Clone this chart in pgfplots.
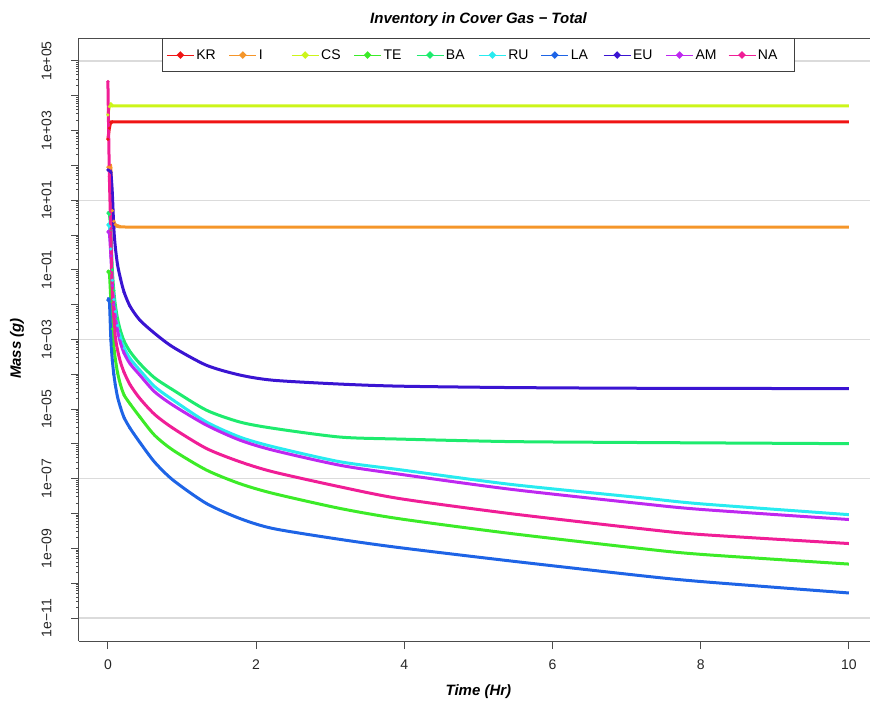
\documentclass[border=0pt]{standalone}
\usepackage{fontspec}
\setmainfont{Liberation Sans}
\usepackage{pgfplots}
\pgfplotsset{compat=1.18}

\definecolor{cKR}{HTML}{F01414}
\definecolor{cI}{HTML}{F5962A}
\definecolor{cCS}{HTML}{CCF51A}
\definecolor{cTE}{HTML}{3CEB28}
\definecolor{cBA}{HTML}{1EEB6E}
\definecolor{cRU}{HTML}{28EBF0}
\definecolor{cLA}{HTML}{1E64E6}
\definecolor{cEU}{HTML}{3A14D2}
\definecolor{cAM}{HTML}{BE28F0}
\definecolor{cNA}{HTML}{F01E96}

\newcommand{\lbl}[1]{\makebox[30.5pt][l]{#1}}

\begin{document}
\begin{tikzpicture}
\begin{axis}[
  scale only axis, width=791pt, height=603pt,
  xmin=-0.39, xmax=10.285,
  ymode=log, ymin=2.19e-12, ymax=4.57e5,
  axis x line*=box, axis y line*=left,
  xtick={0,2,4,6,8,10}, xtick pos=bottom,
  ytick={1e-11,1e-10,1e-9,1e-8,1e-7,1e-6,1e-5,1e-4,1e-3,1e-2,1e-1,1,1e1,1e2,1e3,1e4,1e5},
  yticklabels={1e−11,,1e−09,,1e−07,,1e−05,,1e−03,,1e−01,,1e+01,,1e+03,,1e+05},
  ytick pos=left, minor y tick num=0,
  extra y ticks={1e-11,1e-7,1e-3,1e1,1e5},
  extra y tick labels={},
  extra y tick style={grid=major, major tick length=0pt},
  major grid style={line width=1.2pt, color=black!14},
  tick align=outside, major tick length=8pt,
  tick style={line width=1pt, color=black!70},
  axis line style={line width=1pt, color=black!70},
  /pgf/number format/assume math mode=true,
  yticklabel shift=16pt, xticklabel shift=7pt,
  yticklabel style={rotate=90, anchor=south, font=\fontsize{14}{14}\selectfont, text=black!85},
  xticklabel style={anchor=north, font=\fontsize{14}{14}\selectfont, text=black!85},
  title={Inventory in Cover Gas − Total},
  title style={at={(axis description cs:0.505,1)}, yshift=12pt, anchor=center, font=\fontsize{15}{15}\selectfont\bfseries\itshape},
  xlabel={Time (Hr)},
  every axis x label/.style={at={(axis description cs:0.505,0)}, yshift=-51pt, anchor=center, font=\fontsize{15}{15}\selectfont\bfseries\itshape},
  ylabel={Mass (g)},
  every axis y label/.style={at={(axis description cs:0,0.485)}, xshift=-62pt, rotate=90, anchor=center, font=\fontsize{15}{15}\selectfont\bfseries\itshape},
  legend columns=10,
  legend style={at={(axis description cs:0.505,1)}, anchor=north, draw=black!75, line width=0.8pt,
    font=\fontsize{14}{14}\selectfont, inner xsep=4pt, inner ysep=9pt,
    /tikz/every even column/.append style={column sep=0pt}},
  legend image code/.code={\draw[#1, line width=0.9pt, mark=none] (0pt,0pt) -- (27pt,0pt);
    \fill[#1] (13.5pt,0pt) circle (1.7pt);},
  every axis plot/.append style={line width=3pt, mark=*, mark size=1.5pt,
    mark options={line width=0.2pt}, smooth, tension=0.45},
]
\coordinate (SW) at (rel axis cs:0,0);

\addplot[color=cKR, mark indices={1,2,3,4}] coordinates {
(0,562)(0.02,1175)(0.04,1750)(0.06,1770)(0.1,1770)(1,1770)(5,1770)(10,1770)};
\addplot[color=cI, mark indices={1,2,3,4,5,6}] coordinates {
(0,89)(0.02,89)(0.04,85)(0.06,5.0)(0.08,2.5)(0.1,2.0)(0.15,1.8)(0.2,1.72)(1,1.70)(10,1.70)};
\addplot[color=cCS, mark indices={1,2,3,4}] coordinates {
(0,2820)(0.02,4900)(0.04,5750)(0.06,5200)(0.1,5100)(1,5100)(5,5100)(10,5100)};
\addplot[color=cTE, mark indices={1,2,3,4,5,6,7,8,9,10,11}] coordinates {
(0,0.0871)(0.02,0.0794)(0.04,0.0126)(0.06,2.0e-3)(0.08,6.31e-4)(0.1,2.82e-4)(0.13,1.12e-4)(0.17,5.01e-5)(0.22,2.51e-5)(0.3,1.41e-5)(0.43,6.03e-6)(0.63,1.78e-6)(0.88,6.61e-7)(1.33,1.78e-7)(1.78,7.24e-8)(2.23,3.80e-8)(3.13,1.41e-8)(3.94,7.08e-9)(5.43,2.69e-9)(7.18,1.0e-9)(8,6.76e-10)(10,3.55e-10)};
\addplot[color=cBA, mark indices={1,2,3,4,5,6,7,8,9,10,11}] coordinates {
(0,4.27)(0.02,3.98)(0.04,1.26)(0.06,0.1)(0.08,0.0251)(0.1,0.01)(0.13,3.98e-3)(0.17,1.78e-3)(0.22,8.91e-4)(0.3,4.47e-4)(0.43,2.04e-4)(0.63,7.94e-5)(0.88,3.55e-5)(1.33,9.33e-6)(1.78,4.27e-6)(2.23,2.82e-6)(3.13,1.58e-6)(3.94,1.38e-6)(5.43,1.17e-6)(7.18,1.10e-6)(10,1.02e-6)};
\addplot[color=cRU, mark indices={1,2,3,4,5,6,7,8,9,10,11}] coordinates {
(0,1.95)(0.02,1.78)(0.04,0.398)(0.06,0.0501)(0.08,0.0141)(0.1,6.31e-3)(0.13,2.51e-3)(0.17,1.12e-3)(0.22,5.62e-4)(0.3,2.82e-4)(0.43,1.32e-4)(0.63,4.47e-5)(0.88,1.82e-5)(1.33,4.27e-6)(1.78,1.58e-6)(2.23,8.32e-7)(3.13,3.09e-7)(3.94,1.82e-7)(5.43,6.92e-8)(7.18,2.88e-8)(8,1.91e-8)(10,9.33e-9)};
\addplot[color=cLA, mark indices={1,2,3,4,5,6,7,8,9,10,11}] coordinates {
(0,0.0135)(0.02,0.0126)(0.04,1.0e-3)(0.06,2.51e-4)(0.08,1.0e-4)(0.1,5.01e-5)(0.13,2.24e-5)(0.17,1.12e-5)(0.22,5.62e-6)(0.3,2.82e-6)(0.43,1.12e-6)(0.63,3.02e-7)(0.88,9.12e-8)(1.33,1.95e-8)(1.78,7.24e-9)(2.23,3.72e-9)(3.13,1.82e-9)(3.94,1.05e-9)(5.43,4.37e-10)(7.18,1.66e-10)(8,1.12e-10)(10,5.25e-11)};
\addplot[color=cEU, mark indices={1,2,3,4,5,6,7,8,9,10,11}] coordinates {
(0,74.1)(0.02,70.8)(0.04,63.1)(0.06,15.8)(0.08,1.585)(0.1,0.457)(0.13,0.141)(0.17,0.0562)(0.22,0.0224)(0.3,8.91e-3)(0.43,3.63e-3)(0.63,1.51e-3)(0.88,6.03e-4)(1.33,1.82e-4)(1.78,9.55e-5)(2.23,6.76e-5)(3.13,5.25e-5)(3.94,4.57e-5)(5.43,4.17e-5)(7.18,3.98e-5)(10,3.89e-5)};
\addplot[color=cAM, mark indices={1,2,3,4,5,6,7,8,9,10,11}] coordinates {
(0,1.23)(0.02,1.12)(0.04,0.251)(0.06,0.0355)(0.08,0.01)(0.1,4.47e-3)(0.13,1.78e-3)(0.17,7.94e-4)(0.22,3.98e-4)(0.3,2.0e-4)(0.43,9.55e-5)(0.63,3.16e-5)(0.88,1.29e-5)(1.33,3.47e-6)(1.78,1.29e-6)(2.23,6.61e-7)(3.13,2.45e-7)(3.94,1.35e-7)(5.43,5.01e-8)(7.18,1.95e-8)(8,1.32e-8)(10,6.76e-9)};
\addplot[color=cNA, mark indices={1,2,3,4,5,6,7,8,9,10,11}] coordinates {
(0,2.57e4)(0.02,47.9)(0.04,1.23)(0.06,0.0234)(0.08,4.47e-3)(0.1,1.20e-3)(0.13,5.01e-4)(0.17,2.24e-4)(0.22,1.12e-4)(0.3,5.01e-5)(0.43,2.04e-5)(0.63,7.08e-6)(0.88,2.82e-6)(1.33,7.41e-7)(1.78,3.09e-7)(2.23,1.58e-7)(3.13,5.89e-8)(3.94,2.69e-8)(5.43,1.0e-8)(7.18,3.72e-9)(8,2.51e-9)(10,1.38e-9)};
\legend{\lbl{KR},\lbl{I},\lbl{CS},\lbl{TE},\lbl{BA},\lbl{RU},\lbl{LA},\lbl{EU},\lbl{AM},\lbl{NA}}
\end{axis}
\pgfresetboundingbox
\path (SW) ++(-79pt,-66pt) rectangle ++(870pt,707pt);
\end{tikzpicture}
\end{document}
